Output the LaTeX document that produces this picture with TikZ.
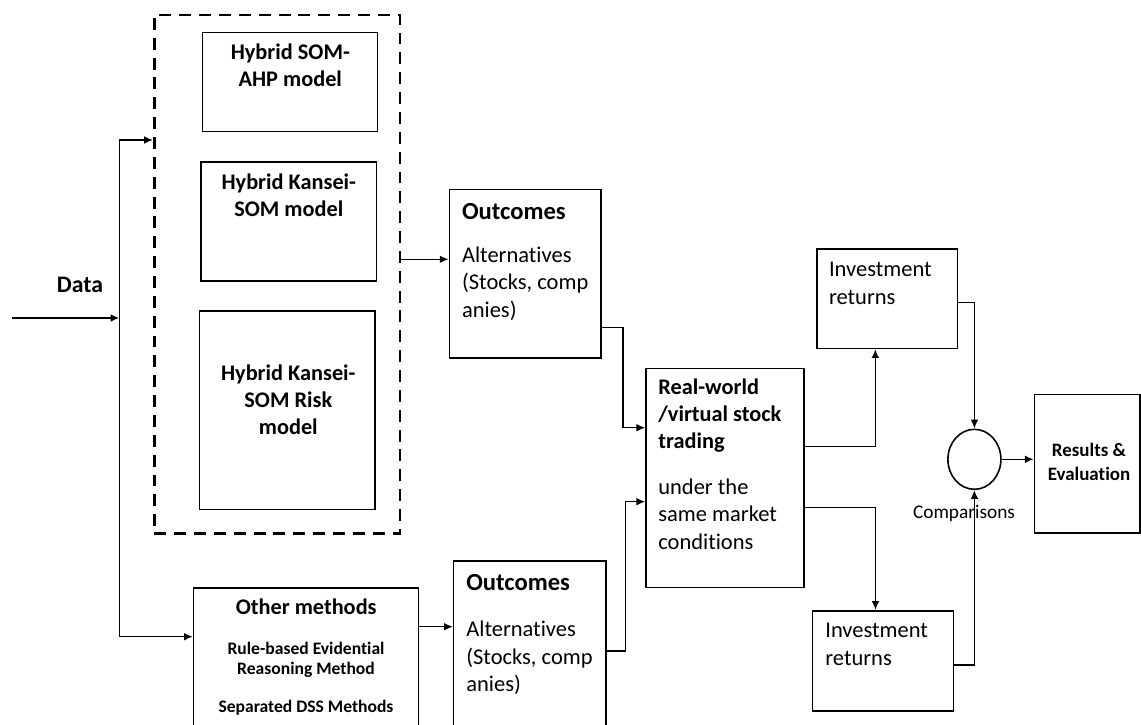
\documentclass[tikz,border=0pt]{standalone}
\usepackage{fontspec}
\setmainfont{Carlito}[Ligatures=NoCommon]
\usetikzlibrary{arrows.meta,positioning,shapes.geometric}

\newcommand\boxfont{\fontsize{12.7}{15.2}\selectfont\bfseries}
\newcommand\headfont{\fontsize{14}{17}\selectfont\bfseries}
\newcommand\bodyfont{\fontsize{12.8}{15.6}\selectfont}
\newcommand\smallfont{\fontsize{10}{11.4}\selectfont\bfseries}
\newcommand\resfont{\fontsize{10.8}{13.1}\selectfont\bfseries}
\newcommand\datafont{\fontsize{13.5}{16}\selectfont\bfseries}
\newcommand\cmpfont{\fontsize{11}{13}\selectfont}

\tikzset{
  block/.style={draw, line width=0.9pt, inner sep=0pt},
  wh/.style 2 args={minimum width=#1*0.02cm, minimum height=#2*0.02cm},
  lbl/.style={inner sep=0pt, anchor=base west, align=left},
  clbl/.style={inner sep=0pt, anchor=base, align=center},
  flow/.style={-{Latex[length=5pt,width=4.4pt]}, line width=0.85pt},
}

\begin{document}
\begin{tikzpicture}[x=0.02cm,y=-0.02cm]
\clip (0,0) rectangle (1141,724);

% models inside the dashed frame (text nodes sit on their last baseline)
\node[block, dashed, line width=1.6pt, dash pattern=on 6.8pt off 4.5pt, wh={245.7}{518.3}] (frame) at (277.2,274.2) {};
\node[block, wh={175.4}{99.4}] (ahp) at (290,82) {};
\node[block, wh={175.7}{119.3}] (ks) at (288.8,221.4) {};
\node[block, wh={175.7}{198.5}] (ksr) at (287.2,410.3) {};
\node[clbl, font=\boxfont] (ahptxt) at (290.3,86) {Hybrid SOM-\\AHP model};
\node[clbl, font=\boxfont] (kstxt) at (288.8,216) {Hybrid Kansei-\\SOM model};
\node[clbl, font=\boxfont] (ksrtxt) at (288.3,434) {Hybrid Kansei-\\SOM Risk\\model};

\node[clbl, font=\datafont] (data) at (80,292.7) {Data};

% other methods
\node[block, wh={225}{162.3}] (other) at (306.1,668.9) {};
\node[clbl, font=\boxfont] (othhead) at (306.2,614.3) {Other methods};
\node[clbl, font=\smallfont] (othrule) at (306,674.3) {Rule-based Evidential\\Reasoning Method};
\node[clbl, font=\smallfont] (othsep) at (306,712.7) {Separated DSS Methods};

% outcomes
\node[block, wh={151.7}{168.4}] (out1) at (525.2,273.5) {};
\node[lbl, font=\headfont] (out1head) at (461.7,219.3) {Outcomes};
\node[lbl, font=\bodyfont] (out1txt) at (461.7,317.3) {Alternatives\\(Stocks, comp\\anies)};
\node[block, wh={152.1}{189.3}] (out2) at (529.7,655.4) {};
\node[lbl, font=\headfont] (out2head) at (466,590.7) {Outcomes};
\node[lbl, font=\bodyfont] (out2txt) at (466,691.7) {Alternatives\\(Stocks, comp\\anies)};

% trading
\node[block, wh={158}{219}] (trade) at (725,477.8) {};
\node[lbl, font=\boxfont] (tradehead) at (658,448) {Real-world\\/virtual stock\\trading};
\node[lbl, font=\bodyfont] (tradetxt) at (658,549.3) {under the\\same market\\conditions};

% returns and comparison
\node[block, wh={140.7}{99.3}] (irtop) at (887.2,298.7) {};
\node[lbl, font=\bodyfont] (irtoptxt) at (828.7,304) {Investment\\returns};
\node[block, wh={140.7}{100}] (irbot) at (883,660.7) {};
\node[lbl, font=\bodyfont] (irbottxt) at (825,665) {Investment\\returns};
\node[block, ellipse, wh={53}{60}] (cmp) at (974.4,459.3) {};
\node[clbl, font=\cmpfont] (cmplbl) at (964,518.3) {Comparisons};
\node[block, wh={105.6}{138.4}] (res) at (1087.2,463.5) {};
\node[clbl, font=\resfont] (restxt) at (1089,480) {Results \&\\Evaluation};

% connectors
\coordinate (src) at (12,318);
\coordinate (split) at (119.3,318);
\draw[flow] (src) -- (split);
\draw[flow] (split) |- (frame.west |- 0,140);
\draw[flow] (split) |- (other.west |- 0,636.7);
\draw[flow] (frame.east |- 0,259.3) -- (out1.west |- 0,259.3);
\draw[flow] (other.east |- 0,626.7) -- (out2.west |- 0,626.7);
\draw[flow] (out1.east |- 0,327.3) -- (623,327.3) |- (trade.west |- 0,427.7);
\draw[flow] (out2.east |- 0,651) -- (625.7,651) |- (trade.west |- 0,501.7);
\draw[flow] (trade.east |- 0,446.7) -| (irtop.south -| 875.3,0);
\draw[flow] (trade.east |- 0,507.3) -| (irbot.north -| 875.5,0);
\draw[flow] (irtop.east |- 0,302.3) -| (cmp.north);
\draw[flow] (irbot.east |- 0,665) -| (cmp.south);
\draw[flow] (cmp.east) -- (res.west |- cmp.east);
\end{tikzpicture}
\end{document}
